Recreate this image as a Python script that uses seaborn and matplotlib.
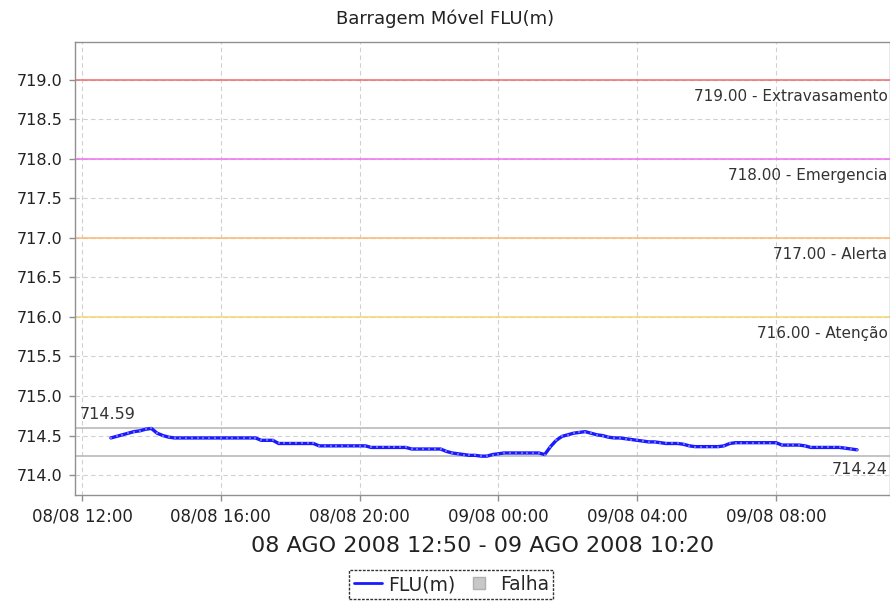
import pandas as pd
import matplotlib
matplotlib.use("Agg")
import matplotlib.pyplot as plt
import matplotlib.dates as mdates
import matplotlib.transforms as mtransforms
from matplotlib.lines import Line2D
import seaborn as sns

# dados: nivel FLU(m) a cada 10 minutos, 08/08 12:50 ate 09/08 10:20
start_time = "2008-08-08 12:50"
end_time = "2008-08-09 10:20"
level = [
    714.47,
    714.49, 714.51, 714.53, 714.55, 714.56, 714.58,   # 13h
    714.59, 714.53, 714.50, 714.48, 714.47, 714.47,   # 14h
    714.47, 714.47, 714.47, 714.47, 714.47, 714.47,   # 15h
    714.47, 714.47, 714.47, 714.47, 714.47, 714.47,   # 16h
    714.47, 714.44, 714.44, 714.44, 714.40, 714.40,   # 17h
    714.40, 714.40, 714.40, 714.40, 714.40, 714.37,   # 18h
    714.37, 714.37, 714.37, 714.37, 714.37, 714.37,   # 19h
    714.37, 714.37, 714.35, 714.35, 714.35, 714.35,   # 20h
    714.35, 714.35, 714.35, 714.33, 714.33, 714.33,   # 21h
    714.33, 714.33, 714.33, 714.30, 714.28, 714.27,   # 22h
    714.26, 714.25, 714.25, 714.24, 714.24, 714.26,   # 23h
    714.27, 714.28, 714.28, 714.28, 714.28, 714.28,   # 00h
    714.28, 714.28, 714.26, 714.36, 714.44, 714.49,   # 01h
    714.51, 714.53, 714.54, 714.55, 714.53, 714.51,   # 02h
    714.50, 714.48, 714.47, 714.47, 714.46, 714.45,   # 03h
    714.44, 714.43, 714.42, 714.42, 714.41, 714.40,   # 04h
    714.40, 714.40, 714.39, 714.37, 714.36, 714.36,   # 05h
    714.36, 714.36, 714.36, 714.37, 714.40, 714.41,   # 06h
    714.41, 714.41, 714.41, 714.41, 714.41, 714.41,   # 07h
    714.41, 714.38, 714.38, 714.38, 714.38, 714.37,   # 08h
    714.35, 714.35, 714.35, 714.35, 714.35, 714.35,   # 09h
    714.34, 714.33, 714.32,
]

# cotas de referencia
limit_values = [719.0, 718.0, 717.0, 716.0]
limit_labels = ["719.00 - Extravasamento", "718.00 - Emergencia",
                "717.00 - Alerta", "716.00 - Atenção"]
limit_colors = ["#f06a6a", "#f070f0", "#ffb870", "#f5d870"]

max_level = 714.59
min_level = 714.24

df = pd.DataFrame({
    "time": pd.date_range(start_time, end_time, freq="10min"),
    "level": level,
})

sns.set_style("white")
plt.rcParams["font.family"] = ["DejaVu Sans"]

fig = plt.figure(figsize=(8.9, 6.14), dpi=100)
ax = fig.add_axes([0.0843, 0.194, 0.9157, 0.738])

# linhas de cota
trans = mtransforms.blended_transform_factory(ax.transAxes, ax.transData)
for val, lab, col in zip(limit_values, limit_labels, limit_colors):
    ax.axhline(val, color=col, lw=1.1, zorder=2)
    ax.text(0.997, val - 0.215, lab, transform=trans, ha="right", va="center",
            fontsize=11, color="#333333")

# max / min
ax.axhline(max_level, color="#b4b4b4", lw=1.1, zorder=2)
ax.axhline(min_level, color="#b4b4b4", lw=1.1, zorder=2)
ax.text(0.006, max_level + 0.18, f"{max_level:.2f}", transform=trans,
        ha="left", va="center", fontsize=11.5, color="#333333")
ax.text(0.997, min_level - 0.17, f"{min_level:.2f}", transform=trans,
        ha="right", va="center", fontsize=11.5, color="#333333")

sns.lineplot(data=df, x="time", y="level", ax=ax, color="#1a1aff", lw=2.4,
             marker="s", markersize=1.8, markerfacecolor="#6a6aff",
             markeredgewidth=0, zorder=5)

ax.set_ylim(713.75, 719.48)
ax.set_yticks([714.0 + 0.5 * i for i in range(11)])
ax.yaxis.set_major_formatter(matplotlib.ticker.FormatStrFormatter("%.1f"))
ax.set_xlim(pd.Timestamp("2008-08-08 11:48"), pd.Timestamp("2008-08-09 11:17"))
ax.xaxis.set_major_locator(mdates.HourLocator(byhour=[0, 4, 8, 12, 16, 20]))
ax.xaxis.set_major_formatter(mdates.DateFormatter("%d/%m %H:%M"))

ax.grid(True, color="#d0d0d0", linestyle=(0, (4, 3)), lw=0.8)
for side in ["left", "bottom", "top", "right"]:
    ax.spines[side].set_color("#909090")
    ax.spines[side].set_linewidth(1.0)
ax.tick_params(axis="y", direction="out", length=4, width=1,
               color="#909090", labelsize=11.5, labelcolor="#222222", pad=5,
               left=True)
ax.tick_params(axis="x", direction="out", length=4, width=1,
               color="#909090", labelsize=12, labelcolor="#222222", pad=5,
               bottom=True)

ax.set_ylabel("")
ax.set_xlabel("08 AGO 2008 12:50 - 09 AGO 2008 10:20", fontsize=16,
              color="#222222", labelpad=8)
fig.text(0.5, 0.97, "Barragem Móvel FLU(m)", ha="center", va="center",
         fontsize=13, color="#222222")

handles = [
    Line2D([0], [0], color="#1a1aff", lw=2),
    Line2D([0], [0], color="#c8c8c8", marker="s", markersize=8,
           markeredgecolor="#b0b0b0", linestyle="none"),
]
leg = fig.legend(handles, ["FLU(m)", "Falha"], loc="center",
                 bbox_to_anchor=(0.507, 0.048), ncol=2, fontsize=13.5,
                 frameon=True, fancybox=False, handlelength=1.5,
                 handletextpad=0.35, columnspacing=0.5, borderpad=0.25,
                 markerscale=1.0)
frame = leg.get_frame()
frame.set_edgecolor("black")
frame.set_linestyle((0, (2, 1)))
frame.set_linewidth(1.0)

fig.savefig("out.png", dpi=100)
